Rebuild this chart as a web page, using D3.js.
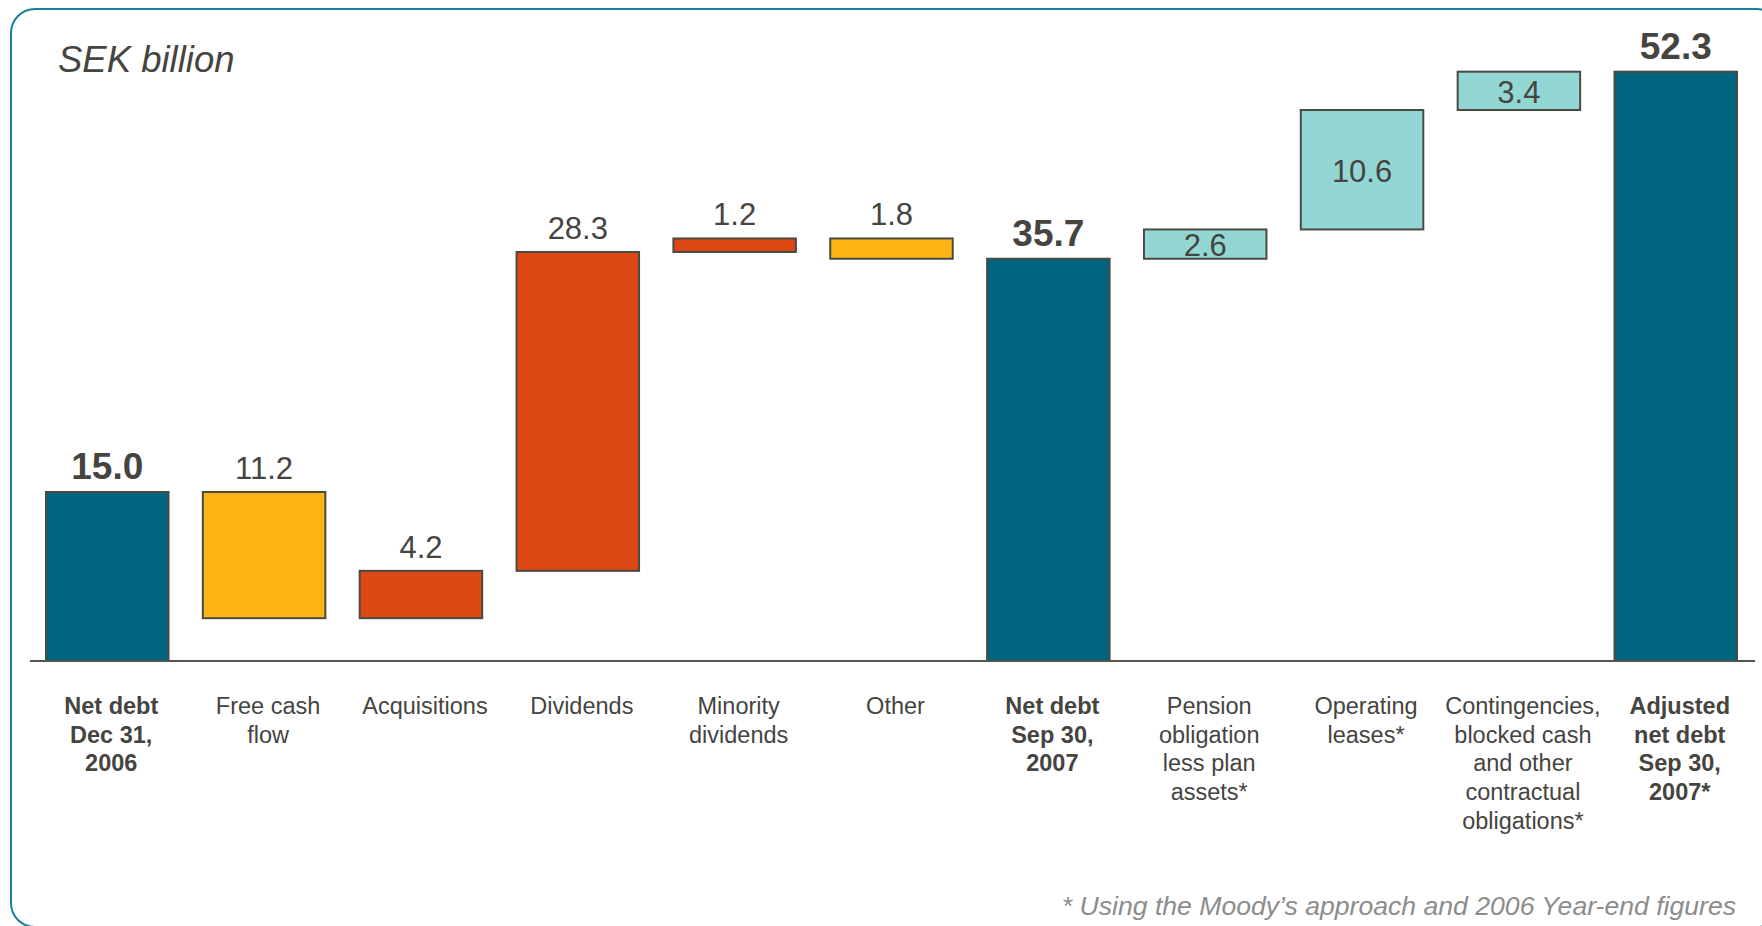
<!DOCTYPE html>
<html>
<head>
<meta charset="utf-8">
<script src="https://cdn.jsdelivr.net/npm/d3@7"></script>
<style>
  html, body { margin: 0; padding: 0; background: #fff; }
  svg { display: block; font-family: "Liberation Sans", Arial, sans-serif; }
</style>
</head>
<body>
<figure id="bridgeChart" style="margin:0"></figure>
<script>
// chart data
const categories = ["netDebt2006", "fcf", "acq", "div", "minDiv", "other",
  "netDebt2007", "pension", "leases", "contingencies", "adjusted"];
const labelLines = [
  ["Net debt", "Dec 31,", "2006"],
  ["Free cash", "flow"],
  ["Acquisitions"],
  ["Dividends"],
  ["Minority", "dividends"],
  ["Other"],
  ["Net debt", "Sep 30,", "2007"],
  ["Pension", "obligation", "less plan", "assets*"],
  ["Operating", "leases*"],
  ["Contingencies,", "blocked cash", "and other", "contractual", "obligations*"],
  ["Adjusted", "net debt", "Sep 30,", "2007*"]
];
// signed change on net debt, totals given as level
const values = [15.0, -11.2, 4.2, 28.3, 1.2, -1.8, 35.7, 2.6, 10.6, 3.4, 52.3];
const kinds = ["total", "decrease", "increase", "increase", "increase", "decrease",
  "total", "adjustment", "adjustment", "adjustment", "total"];

const colors = {
  total: "#00667f",
  decrease: "#fdb515",
  increase: "#dd4814",
  adjustment: "#93d7d5"
};
const textColor = "#45443f";

const width = 1762, height = 926;
const svg = d3.select("figure#bridgeChart").append("svg")
  .attr("width", width).attr("height", height)
  .attr("viewBox", `0 0 ${width} ${height}`);

// frame
svg.append("rect")
  .attr("x", 11).attr("y", 9)
  .attr("width", 1770).attr("height", 918)
  .attr("rx", 24).attr("ry", 24)
  .attr("fill", "none")
  .attr("stroke", "#17819a")
  .attr("stroke-width", 2);

svg.append("text")
  .attr("x", 58).attr("y", 72)
  .attr("font-size", 36.5)
  .attr("font-style", "italic")
  .attr("fill", textColor)
  .text("SEK billion");

// running levels
let level = 0;
const bars = values.map((v, i) => {
  let y0, y1;
  if (kinds[i] === "total") {
    y0 = 0; y1 = v; level = v;
  } else {
    y0 = level; y1 = level + v; level = y1;
  }
  return { key: categories[i], value: v, kind: kinds[i],
    lo: Math.min(y0, y1), hi: Math.max(y0, y1), lines: labelLines[i] };
});

const xScale = d3.scaleBand()
  .domain(categories)
  .range([46, 1737])
  .paddingInner(0.219)
  .paddingOuter(0);

const yScale = d3.scaleLinear()
  .domain([0, 52.3])
  .range([661, 71.7]);

const g = svg.append("g");

g.selectAll("rect.bar")
  .data(bars).enter()
  .append("rect")
  .attr("class", "bar")
  .attr("x", d => xScale(d.key))
  .attr("y", d => yScale(d.hi))
  .attr("width", xScale.bandwidth())
  .attr("height", d => yScale(d.lo) - yScale(d.hi))
  .attr("fill", d => colors[d.kind])
  .attr("stroke", "#4a4a45")
  .attr("stroke-width", 2);

// baseline
svg.append("line")
  .attr("x1", 30).attr("x2", 1755)
  .attr("y1", yScale(0)).attr("y2", yScale(0))
  .attr("stroke", "#55554f")
  .attr("stroke-width", 2);

// value labels
g.selectAll("text.value")
  .data(bars).enter()
  .append("text")
  .attr("class", "value")
  .attr("x", d => xScale(d.key) + xScale.bandwidth() / 2)
  .attr("y", d => d.kind === "adjustment"
    ? (yScale(d.lo) + yScale(d.hi)) / 2 + 12
    : yScale(d.hi) - 13)
  .attr("text-anchor", "middle")
  .attr("font-size", d => d.kind === "total" ? 37 : 31)
  .attr("font-weight", d => d.kind === "total" ? "bold" : "normal")
  .attr("fill", textColor)
  .text(d => d3.format(".1f")(Math.abs(d.value)));

// category labels
const cats = g.selectAll("text.cat")
  .data(bars).enter()
  .append("text")
  .attr("class", "cat")
  .attr("text-anchor", "middle")
  .attr("font-size", 23.5)
  .attr("font-weight", d => d.kind === "total" ? "bold" : "normal")
  .attr("fill", textColor);
cats.selectAll("tspan")
  .data(d => d.lines.map(l => ({ l, x: xScale(d.key) + xScale.bandwidth() / 2 + 4 })))
  .enter().append("tspan")
  .attr("x", d => d.x)
  .attr("y", (d, i) => 714 + i * 28.7)
  .text(d => d.l);

// footnote
svg.append("text")
  .attr("x", 1736).attr("y", 915)
  .attr("text-anchor", "end")
  .attr("font-size", 26.6)
  .attr("font-style", "italic")
  .attr("fill", "#8c8c8c")
  .text("* Using the Moody\u2019s approach and 2006 Year-end figures");
</script>
</body>
</html>
